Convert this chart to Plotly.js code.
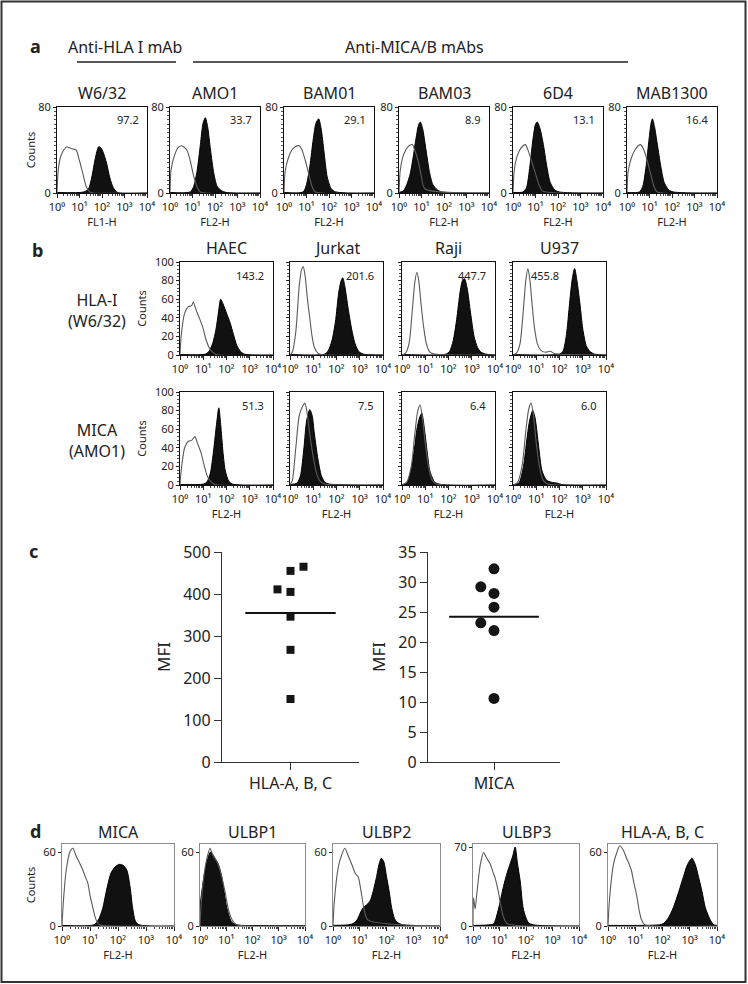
<!DOCTYPE html>
<html><head><meta charset="utf-8">
<script src="https://cdn.plot.ly/plotly-3.0.1.min.js"></script>
<style>html,body{margin:0;padding:0;background:#fff;}#chart{width:748px;height:984px;}</style>
</head><body><div id="chart"></div>
<script>
// ---------------- DATA (x values are log10 of fluorescence, y = counts) ----------------
const decadeVals = [1, 10, 100, 1000, 10000];
const decadeText = ['10\u2070','10\u00B9','10\u00B2','10\u00B3','10\u2074'];

// Panel a
const panelA_antibodies = ['W6/32','AMO1','BAM01','BAM03','6D4','MAB1300'];
const panelA_mfi = ['97.2','33.7','29.1','8.9','13.1','16.4'];
const panelA_channel = ['FL1-H','FL2-H','FL2-H','FL2-H','FL2-H','FL2-H'];
const panelA_openLog = [
  [0,0.05,0.15,0.3,0.45,0.55,0.7,0.85,1.0,1.15,1.3,1.45,1.6,4],
  [0,0.05,0.2,0.35,0.5,0.6,0.75,0.9,1.05,1.2,1.35,4],
  [0,0.05,0.2,0.35,0.5,0.67,0.8,0.95,1.1,1.25,1.4,4],
  [0,0.05,0.15,0.3,0.45,0.6,0.7,0.85,1.0,1.15,4],
  [0,0.05,0.15,0.3,0.45,0.55,0.7,0.85,1.0,1.15,1.3,4],
  [0,0.05,0.2,0.35,0.5,0.6,0.75,0.9,1.05,1.2,1.35,4]
];
const panelA_openCounts = [
  [0,20,33,40,43,42,41,40,30,18,6,1,0,0],
  [0,22,35,42,44,43,40,30,16,6,1,0],
  [0,20,33,40,43,44,40,30,18,6,1,0],
  [0,20,32,40,44,45,40,30,15,4,0],
  [0,20,32,40,44,45,38,28,18,8,2,0],
  [0,20,33,40,44,45,40,30,18,6,1,0]
];
const panelA_fillLog = [
  [0,1.2,1.4,1.55,1.7,1.85,1.95,2.05,2.2,2.35,2.5,2.65,2.8,4],
  [0,0.9,1.05,1.2,1.35,1.47,1.57,1.67,1.8,1.95,2.1,2.3,2.5,4],
  [0,0.85,1.0,1.15,1.3,1.42,1.54,1.65,1.78,1.92,2.1,2.3,4],
  [0,0.2,0.35,0.5,0.62,0.75,0.88,0.95,1.05,1.2,1.35,1.5,1.7,1.9,4],
  [0,0.45,0.6,0.75,0.9,1.0,1.08,1.2,1.35,1.5,1.65,1.85,2.05,4],
  [0,0.55,0.7,0.85,0.98,1.07,1.13,1.22,1.35,1.5,1.65,1.85,2.05,4]
];
const panelA_fillCounts = [
  [0.5,1,4,15,32,43,42,38,28,14,5,1,0,0],
  [0.5,1,6,20,45,65,70,62,40,18,6,2,0.5,0],
  [0.5,1,8,25,50,65,69,60,38,15,4,1,0],
  [0.5,2,8,18,32,50,64,66,60,40,20,8,3,1,0],
  [0.5,1,5,25,52,64,66,60,45,25,10,3,1,0],
  [0.5,1,6,25,50,65,69,62,45,25,10,3,1,0]
];

// Panel b
const panelB_cells = ['HAEC','Jurkat','Raji','U937'];
const panelB_rows = ['HLA-I<br>(W6/32)','MICA<br>(AMO1)'];
const panelB_mfiHLA = ['143.2','201.6','447.7','455.8'];
const panelB_mfiMICA = ['51.3','7.5','6.4','6.0'];
const panelB_hlaOpenLog = [
  [0,0.05,0.2,0.36,0.5,0.57,0.7,0.86,1.0,1.1,1.25,1.4,1.55,4],
  [0,0.1,0.25,0.4,0.5,0.57,0.65,0.75,0.85,0.95,1.05,1.2,1.35,4],
  [0,0.15,0.3,0.45,0.55,0.64,0.72,0.82,0.92,1.05,1.2,1.4,4],
  [0,0.15,0.3,0.45,0.55,0.64,0.72,0.82,0.92,1.05,1.2,1.4,1.6,1.75,1.9,4]
];
const panelB_hlaOpenCounts = [
  [0,20,45,52,53,57,48,38,28,18,8,3,0.5,0],
  [0,3,25,75,92,95,85,60,40,20,8,2,0.5,0],
  [0,2,12,50,78,89,80,55,32,12,3,1,0],
  [0,2,12,50,80,93,82,55,30,12,5,3,4,2,1,0]
];
const panelB_hlaFillLog = [
  [0,1.1,1.25,1.4,1.55,1.65,1.75,1.85,2.0,2.15,2.3,2.45,2.6,2.75,4],
  [0,1.5,1.65,1.8,1.95,2.1,2.2,2.27,2.35,2.5,2.65,2.8,2.95,3.15,4],
  [0,1.9,2.05,2.2,2.35,2.5,2.6,2.69,2.8,2.95,3.1,3.25,3.4,3.6,4],
  [0,2.0,2.15,2.3,2.42,2.55,2.65,2.75,2.88,3.0,3.15,3.3,3.5,4]
];
const panelB_hlaFillCounts = [
  [0.5,1,4,12,28,45,60,55,45,35,22,10,4,1,0],
  [0.5,1,5,15,35,68,80,83,75,50,28,12,4,1,0],
  [0.5,1,4,15,38,68,80,82,72,45,20,8,3,1,0],
  [0.5,1,4,22,52,82,93,80,55,28,10,4,1,0]
];
const panelB_micaOpenLog = [
  [0,0.05,0.2,0.36,0.5,0.64,0.75,0.9,1.05,1.2,1.35,1.5,4],
  [0,0.1,0.25,0.4,0.55,0.64,0.72,0.85,1.0,1.15,1.3,1.5,4],
  [0,0.2,0.4,0.55,0.68,0.78,0.88,1.0,1.15,1.3,1.5,4],
  [0,0.2,0.4,0.55,0.68,0.78,0.88,1.0,1.15,1.3,1.5,4]
];
const panelB_micaOpenCounts = [
  [0,15,40,47,48,52,45,35,20,8,3,0.5,0],
  [0,5,40,75,85,88,80,55,30,12,4,1,0],
  [0,3,20,55,80,86,72,45,18,5,1,0],
  [0,3,22,58,82,88,75,45,18,5,1,0]
];
const panelB_micaFillLog = [
  [0,1.0,1.15,1.3,1.45,1.57,1.67,1.75,1.85,1.95,2.1,2.25,4],
  [0,0.3,0.45,0.6,0.72,0.85,0.95,1.05,1.2,1.35,1.5,1.7,4],
  [0,0.21,0.42,0.55,0.64,0.75,0.85,0.99,1.1,1.2,1.41,1.7,4],
  [0,0.25,0.45,0.6,0.72,0.85,0.95,1.1,1.25,1.45,1.65,1.9,2.1,4]
];
const panelB_micaFillCounts = [
  [0.5,1,3,12,38,65,83,65,35,15,4,1,0],
  [0.5,2,10,40,70,81,75,55,28,10,3,1,0],
  [0.5,2,20,42,60,72,77,55,32,15,3,0.5,0],
  [0.5,2,20,50,70,80,72,42,15,5,3,2,0.5,0]
];

// Panel c
const panelC_categories = ['HLA-A, B, C','MICA'];
const panelC_hlaMFI = [455,465,411,405,346,267,150];
const panelC_hlaJitter = [0,0.19,-0.19,0,0,0,0];
const panelC_hlaMean = 355;
const panelC_micaMFI = [32.2,29.2,28.1,25.8,23.2,21.9,10.6];
const panelC_micaJitter = [0,-0.2,0,0,-0.2,0,0];
const panelC_micaMean = 24.2;

// Panel d
const panelD_markers = ['MICA','ULBP1','ULBP2','ULBP3','HLA-A, B, C'];
const panelD_yTick = [60,60,60,70,60];
const panelD_openLog = [
  [0,0.05,0.15,0.28,0.39,0.5,0.65,0.75,0.83,0.92,1.0,1.1,1.2,1.3,1.4,4],
  [0,0.05,0.2,0.3,0.38,0.5,0.65,0.8,0.95,1.1,1.25,1.4,4],
  [0,0.05,0.2,0.33,0.44,0.55,0.7,0.85,0.94,1.05,1.15,1.3,4],
  [0,0.02,0.08,0.15,0.28,0.4,0.52,0.65,0.75,0.84,0.96,1.05,1.15,1.3,4],
  [0,0.05,0.2,0.33,0.43,0.55,0.68,0.78,0.86,0.95,1.05,1.15,1.23,1.35,4]
];
const panelD_openCounts = [
  [0,20,45,60,63,57,50,45,40,35,25,15,6,2,0.5,0],
  [0,20,48,58,63,57,52,42,28,12,4,1,0],
  [0,20,48,58,63,58,50,42,40,28,15,5,0],
  [0,25,15,30,55,65,60,55,48,42,30,18,8,2,0],
  [0,20,50,60,65,62,55,50,45,35,25,12,5,1,0]
];
const panelD_fillLog = [
  [0,1.15,1.3,1.45,1.6,1.75,1.9,2.05,2.2,2.32,2.43,2.52,2.62,2.75,4],
  [0,0.05,0.19,0.3,0.4,0.57,0.7,0.83,1.02,1.21,1.4,1.6,4],
  [0,0.6,0.75,0.9,1.05,1.13,1.25,1.38,1.5,1.63,1.72,1.81,1.9,2.0,2.1,2.19,2.3,2.4,2.6,4],
  [0,0.6,0.78,0.96,1.15,1.3,1.4,1.5,1.59,1.68,1.78,1.9,2.09,2.28,4],
  [0,1.9,2.03,2.2,2.4,2.6,2.77,2.92,3.08,3.2,3.32,3.45,3.57,3.75,3.88,4]
];
const panelD_fillCounts = [
  [0.5,1,5,14,30,43,48,50,49,45,32,15,4,1,0],
  [15,25,45,55,60,55,50,40,15,3,1,0.5,0.3],
  [0.5,1,2,5,12,15,17,20,28,40,50,55,52,40,28,15,6,3,1,0],
  [0.5,1,2,15,35,48,55,62,70,55,40,15,3,1,0],
  [0.5,1,2,6,15,28,40,50,55,50,40,28,15,5,1,0.5]
];

// ---------------- BUILD ----------------
const W = 748, H = 984;
const FONT = 'Noto Sans, Open Sans, DejaVu Sans, sans-serif';
const traces = [], annotations = [], shapes = [];
const layout = {
  width: W, height: H, margin: {l:0, r:0, t:0, b:0},
  paper_bgcolor: '#fff', plot_bgcolor: 'rgba(0,0,0,0)', showlegend: false,
  font: {family: FONT, color: '#222'}, annotations: annotations, shapes: shapes
};
let axN = 0;
function toLin(a) { return a.map(v => Math.pow(10, v)); }
function ann(text, x, y, size, extra) {
  annotations.push(Object.assign({text: text, x: x / W, y: 1 - y / H, xref: 'paper', yref: 'paper',
    showarrow: false, xanchor: 'center', yanchor: 'middle', font: {size: size, family: FONT, color: '#222'}}, extra || {}));
}

function histPanel(o) {
  axN++;
  const s = axN === 1 ? '' : String(axN);
  const xa = {
    domain: [o.x0 / W, o.x1 / W], anchor: 'y' + s, type: 'log', range: [0, 4],
    tickmode: 'array', tickvals: decadeVals, ticktext: decadeText,
    ticks: 'outside', ticklen: 4, tickwidth: 1, tickcolor: '#222',
    minor: {ticks: 'outside', ticklen: 2, tickcolor: '#444', dtick: 'D1'},
    showline: true, mirror: true, linecolor: o.lineColor, linewidth: 1,
    showgrid: false, zeroline: false, fixedrange: true,
    tickfont: {size: o.tickSize, color: '#222', family: FONT}
  };
  if (o.xTitle) xa.title = {text: o.xTitle, font: {size: 11, color: '#222'}, standoff: o.xStandoff};
  const ya = {
    domain: [1 - o.y1 / H, 1 - o.y0 / H], anchor: 'x' + s, range: [0, o.yMax],
    tickmode: 'array', tickvals: o.yTicks, showticklabels: o.yLabels,
    ticks: 'outside', ticklen: 3, tickwidth: 1, tickcolor: '#222',
    showline: true, mirror: true, linecolor: o.lineColor, linewidth: 1,
    showgrid: false, zeroline: false, fixedrange: true,
    tickfont: {size: o.tickSize, color: '#222', family: FONT}
  };
  if (o.yMinor) ya.minor = {ticks: 'outside', ticklen: 2, tickcolor: '#555', dtick: o.yMinor, tick0: 0};
  if (o.yTitle) ya.title = {text: o.yTitle, font: {size: 11, color: '#222'}, standoff: o.yStandoff};
  layout['xaxis' + s] = xa;
  layout['yaxis' + s] = ya;
  traces.push({type: 'scatter', mode: 'lines', x: toLin(o.fx), y: o.fy, xaxis: 'x' + s, yaxis: 'y' + s,
    fill: 'tozeroy', fillcolor: '#111', line: {color: '#000', width: 1, shape: 'spline', smoothing: 0.7},
    hoverinfo: 'skip'});
  traces.push({type: 'scatter', mode: 'lines', x: toLin(o.ox), y: o.oy, xaxis: 'x' + s, yaxis: 'y' + s,
    line: {color: '#5a5a5a', width: 1.1, shape: 'spline', smoothing: 0.7}, hoverinfo: 'skip'});
}

// ----- Panel a -----
const A_LEFTS = [57, 170, 284, 399, 513, 627], A_W = 90, A_TOP = 107, A_BOT = 193;
ann('<b>a</b>', 35, 46, 18);
ann('Anti-HLA I mAb', 125, 47, 16);
ann('Anti-MICA/B mAbs', 414, 47, 16);
shapes.push({type: 'line', xref: 'paper', yref: 'paper', x0: 77 / W, x1: 176 / W, y0: 1 - 62 / H, y1: 1 - 62 / H, line: {color: '#222', width: 1.5}});
shapes.push({type: 'line', xref: 'paper', yref: 'paper', x0: 193 / W, x1: 628 / W, y0: 1 - 62 / H, y1: 1 - 62 / H, line: {color: '#222', width: 1.5}});
panelA_antibodies.forEach((name, i) => {
  const x0 = A_LEFTS[i], x1 = x0 + A_W;
  histPanel({x0: x0, x1: x1, y0: A_TOP, y1: A_BOT, yMax: 80, yTicks: [0, 80], yLabels: true, yMinor: 4,
    lineColor: '#111', tickSize: 11, xTitle: panelA_channel[i], xStandoff: 1,
    yTitle: i === 0 ? 'Counts' : '', yStandoff: 0,
    ox: panelA_openLog[i], oy: panelA_openCounts[i], fx: panelA_fillLog[i], fy: panelA_fillCounts[i]});
  ann(name, (x0 + x1) / 2, 93, 16);
  ann(panelA_mfi[i], x1 - 6, A_TOP + 12, 11, {xanchor: 'right'});
});

// ----- Panel b -----
const B_LEFTS = [180, 290, 402, 513], B_W = 93, B_TOPS = [262, 392], B_H = 93;
ann('<b>b</b>', 37, 250, 18);
panelB_rows.forEach((lab, r) => ann(lab, 97, B_TOPS[r] + 48, 16));
panelB_cells.forEach((cell, i) => {
  const x0 = B_LEFTS[i], x1 = x0 + B_W;
  ann(cell, (x0 + x1) / 2, 248, 16);
  histPanel({x0: x0, x1: x1, y0: B_TOPS[0], y1: B_TOPS[0] + B_H, yMax: 100, yTicks: [0, 20, 40, 60, 80, 100],
    yLabels: i === 0, yMinor: 4, lineColor: '#111', tickSize: 11, xTitle: '',
    yTitle: i === 0 ? 'Counts' : '', yStandoff: 6,
    ox: panelB_hlaOpenLog[i], oy: panelB_hlaOpenCounts[i], fx: panelB_hlaFillLog[i], fy: panelB_hlaFillCounts[i]});
  histPanel({x0: x0, x1: x1, y0: B_TOPS[1], y1: B_TOPS[1] + B_H, yMax: 100, yTicks: [0, 20, 40, 60, 80, 100],
    yLabels: i === 0, yMinor: 4, lineColor: '#111', tickSize: 11, xTitle: 'FL2-H', xStandoff: 1,
    yTitle: i === 0 ? 'Counts' : '', yStandoff: 6,
    ox: panelB_micaOpenLog[i], oy: panelB_micaOpenCounts[i], fx: panelB_micaFillLog[i], fy: panelB_micaFillCounts[i]});
  if (i === 3) ann(panelB_mfiHLA[i], 545, B_TOPS[0] + 13, 11);
  else ann(panelB_mfiHLA[i], x1 - 7, B_TOPS[0] + 13, 11, {xanchor: 'right'});
  ann(panelB_mfiMICA[i], x1 - 7, B_TOPS[1] + 13, 11, {xanchor: 'right'});
});

// ----- Panel c -----
ann('<b>c</b>', 33, 551, 18);
function dotPanel(o) {
  axN++;
  const s = String(axN);
  layout['xaxis' + s] = {
    domain: [o.x0 / W, o.x1 / W], anchor: 'y' + s, range: [-1, 1],
    tickmode: 'array', tickvals: [0], ticktext: [o.cat],
    ticks: 'outside', ticklen: 7, tickcolor: '#333', showline: true, linecolor: '#333', linewidth: 1.2,
    showgrid: false, zeroline: false, fixedrange: true, tickfont: {size: 16, color: '#222', family: FONT}
  };
  layout['yaxis' + s] = {
    domain: [1 - 762 / H, 1 - 552 / H], anchor: 'x' + s, range: [0, o.yMax], dtick: o.dtick, tick0: 0,
    ticks: 'outside', ticklen: 7, tickcolor: '#333', showline: true, linecolor: '#333', linewidth: 1.2,
    showgrid: false, zeroline: false, fixedrange: true, tickfont: {size: 16, color: '#222', family: FONT},
    title: {text: 'MFI', font: {size: 17, color: '#222'}, standoff: 8}
  };
  traces.push({type: 'scatter', mode: 'markers', x: o.jit, y: o.vals, xaxis: 'x' + s, yaxis: 'y' + s,
    marker: {symbol: o.symbol, size: o.size, color: '#151515'}, hoverinfo: 'skip', cliponaxis: false});
  traces.push({type: 'scatter', mode: 'lines', x: [-o.half, o.half], y: [o.mean, o.mean], xaxis: 'x' + s, yaxis: 'y' + s,
    line: {color: '#111', width: 2}, hoverinfo: 'skip'});
}
dotPanel({x0: 222, x1: 359, cat: panelC_categories[0], yMax: 500, dtick: 100, vals: panelC_hlaMFI,
  jit: panelC_hlaJitter, mean: panelC_hlaMean, symbol: 'square', size: 8, half: 0.66});
dotPanel({x0: 428, x1: 560, cat: panelC_categories[1], yMax: 35, dtick: 5, vals: panelC_micaMFI,
  jit: panelC_micaJitter, mean: panelC_micaMean, symbol: 'circle', size: 11, half: 0.68});

// ----- Panel d -----
const D_BOXES = [[62, 174], [200, 305], [333, 440], [473, 579], [608, 717]], D_TOP = 844, D_BOT = 926;
ann('<b>d</b>', 35, 831, 18);
panelD_markers.forEach((m, i) => {
  const b = D_BOXES[i];
  const tickPx = panelD_yTick[i] === 70 ? 847 : 852;
  const yMax = panelD_yTick[i] * (D_BOT - D_TOP) / (D_BOT - tickPx);
  histPanel({x0: b[0], x1: b[1], y0: D_TOP, y1: D_BOT, yMax: yMax, yTicks: [0, panelD_yTick[i]], yLabels: true,
    yMinor: 0, lineColor: '#8c8c8c', tickSize: 11, xTitle: 'FL2-H', xStandoff: 2,
    yTitle: i === 0 ? 'Counts' : '', yStandoff: 5,
    ox: panelD_openLog[i], oy: panelD_openCounts[i], fx: panelD_fillLog[i], fy: panelD_fillCounts[i]});
  ann(m, (b[0] + b[1]) / 2, 832, 16);
});

// outer frame
shapes.push({type: 'rect', xref: 'paper', yref: 'paper', x0: 1.5 / W, x1: 745.5 / W, y0: 1 - 982 / H, y1: 1 - 1.5 / H,
  line: {color: '#333', width: 2}});

Plotly.newPlot('chart', traces, layout, {displayModeBar: false, staticPlot: true});
</script></body></html>
